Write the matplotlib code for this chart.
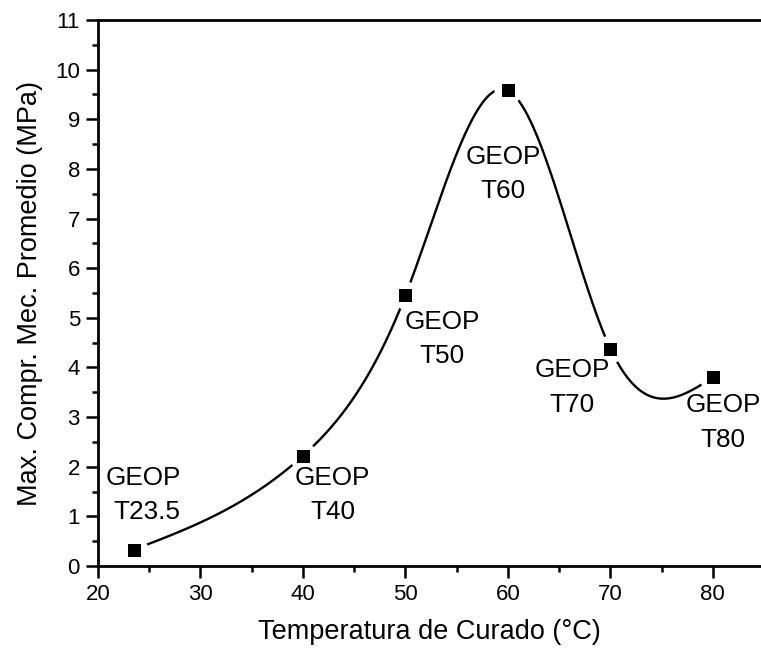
import numpy as np
import matplotlib
matplotlib.use("Agg")
import matplotlib.pyplot as plt
from matplotlib.ticker import MultipleLocator

temps = [23.5, 40, 50, 60, 70, 80]
strength = [0.33, 2.22, 5.45, 9.58, 4.38, 3.80]
labels = ["GEOP\nT23.5", "GEOP\nT40", "GEOP\nT50", "GEOP\nT60", "GEOP\nT70", "GEOP\nT80"]
label_x = [24.39, 42.88, 53.56, 59.51, 66.29, 80.98]
label_y = [1.43, 1.43, 4.57, 7.90, 3.60, 2.89]
label_align = ['right', 'center', 'center', 'center', 'center', 'center']

def natural_spline(x, y, xs):
    x = np.asarray(x, float); y = np.asarray(y, float)
    n = len(x)
    h = np.diff(x)
    A = np.zeros((n, n)); b = np.zeros(n)
    A[0, 0] = 1; A[-1, -1] = 1
    for i in range(1, n - 1):
        A[i, i - 1] = h[i - 1]
        A[i, i] = 2 * (h[i - 1] + h[i])
        A[i, i + 1] = h[i]
        b[i] = 6 * ((y[i + 1] - y[i]) / h[i] - (y[i] - y[i - 1]) / h[i - 1])
    M = np.linalg.solve(A, b)
    out = np.empty_like(xs)
    for k, xv in enumerate(xs):
        i = min(max(np.searchsorted(x, xv) - 1, 0), n - 2)
        t1 = x[i + 1] - xv; t0 = xv - x[i]
        out[k] = (M[i] * t1**3 + M[i + 1] * t0**3) / (6 * h[i]) \
            + (y[i] / h[i] - M[i] * h[i] / 6) * t1 \
            + (y[i + 1] / h[i] - M[i + 1] * h[i] / 6) * t0
    return out

plt.rcParams['font.family'] = ['Liberation Sans', 'DejaVu Sans']

fig = plt.figure(figsize=(7.61, 6.52), dpi=100)
ax = fig.add_axes([0.1288, 0.1319, 0.8712, 0.8374])

xs = np.linspace(temps[0], temps[-1], 600)
ys = natural_spline(temps, strength, xs)
ax.plot(xs, ys, color='black', lw=1.7, zorder=2)
ax.scatter(temps, strength, marker='o', s=(28 * 0.72)**2, color='white', zorder=3, linewidths=0)
ax.scatter(temps, strength, marker='s', s=(13 * 0.72 * 1.0)**2, color='black', zorder=4, linewidths=0)

for lx, ly, t, al in zip(label_x, label_y, labels, label_align):
    ax.text(lx, ly, t, ha='center', va='center', multialignment=al,
            fontsize=18.8, linespacing=1.55, zorder=5)

ax.set_xlim(20, 84.7)
ax.set_ylim(0, 11)
ax.xaxis.set_major_locator(MultipleLocator(10))
ax.xaxis.set_minor_locator(MultipleLocator(5))
ax.yaxis.set_major_locator(MultipleLocator(1))
ax.yaxis.set_minor_locator(MultipleLocator(0.5))
ax.tick_params(which='both', direction='out', width=1.8, labelsize=16)
ax.tick_params(which='major', length=8.5, pad=4.5)
ax.tick_params(which='minor', length=4.5)
for s in ['left', 'bottom', 'top']:
    ax.spines[s].set_linewidth(2.0)
ax.spines['right'].set_visible(False)
ax.set_xlabel('Temperatura de Curado (°C)', fontsize=19.5, labelpad=10)
ax.set_ylabel('Max. Compr. Mec. Promedio (MPa)', fontsize=19.5, labelpad=9)

fig.savefig('out.png', dpi=100)
